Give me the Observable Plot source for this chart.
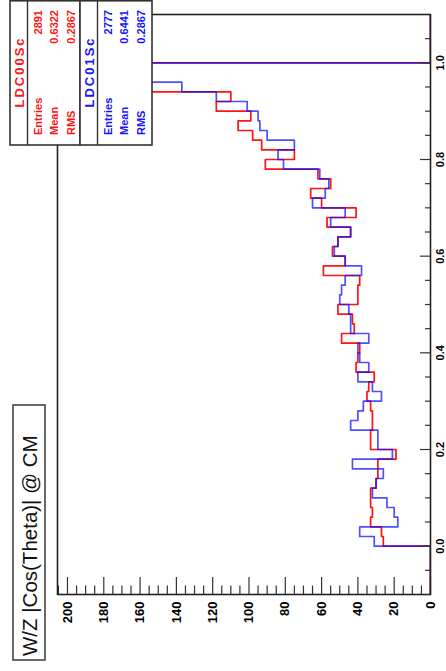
<!DOCTYPE html>
<html>
<head>
<meta charset="utf-8">
<script src="https://cdn.jsdelivr.net/npm/d3@7"></script>
<script src="https://cdn.jsdelivr.net/npm/@observablehq/plot@0.6"></script>
<style>
  html, body { margin: 0; padding: 0; background: #fff; overflow: hidden; }
  #chart { position: relative; width: 446px; height: 671px; }
</style>
</head>
<body>
<div id="chart"></div>
<script>
// |cos(theta)| of the W/Z in the centre-of-mass frame, drawn sideways:
// cos(theta) runs up the page, counts run to the left.
const title = "W/Z |Cos(Theta)| @ CM";
const binWidth = 0.02;               // 50 bins on [0, 1]
const histRange = [-0.1, 1.1];       // histogram axis range
const countMax = 205.5;              // top of the count axis

const seriesNames = ["LDC00Sc", "LDC01Sc"];
const seriesColors = ["#ff1414", "#1414ff"];
const statEntries = ["2891", "2777"];
const statMean = ["0.6322", "0.6441"];
const statRms = ["0.2867", "0.2867"];

// bin contents, bin i covers [0.02*i, 0.02*(i+1))
const ldc00 = [26, 27, 33, 32, 33, 33, 30, 29, 29, 19,
               33, 33, 32, 32, 33, 35, 34, 31, 41, 40,
               39, 49, 42, 43, 51, 40, 40, 39, 59, 47,
               54, 51, 44, 57, 41, 60, 66, 55, 62, 91,
               75, 93, 98, 106, 99, 118, 110, 160, 172, 196];
const ldc01 = [31, 39, 18, 20, 24, 32, 30, 26, 43, 21,
               29, 29, 44, 40, 37, 27, 32, 40, 34, 39,
               40, 34, 44, 44, 45, 50, 49, 47, 38, 47,
               53, 51, 44, 55, 47, 65, 58, 56, 61, 81,
               84, 75, 90, 94, 95, 101, 118, 137, 165, 190];

const cosTicks = [0, 0.2, 0.4, 0.6, 0.8, 1.0];
const countTicks = [0, 20, 40, 60, 80, 100, 120, 140, 160, 180, 200];

// secondary ticks: every 0.05 in cos(theta), every 5 in counts
const cosMinor = d3.range(-0.05, 1.0501, 0.05).filter(t => Math.abs(t / 0.2 - Math.round(t / 0.2)) > 1e-6);
const countMinor = d3.range(5, 206, 5).filter(t => t % 20 !== 0);

const W = 446, H = 671;
const margin = {left: 57, right: 16, top: 14, bottom: 77};
const innerW = W - margin.left - margin.right;
const innerH = H - margin.top - margin.bottom;

// outline of a histogram as step vertices (count, bin low edge)
function stepPoints(values) {
  const pts = [{c: 0, e: histRange[0]}];
  values.forEach((v, i) => pts.push({c: v, e: i * binWidth}));
  pts.push({c: 0, e: values.length * binWidth});
  pts.push({c: 0, e: histRange[1]});
  return pts;
}

const font = "'Liberation Sans', Arial, Helvetica, sans-serif";
const tickColor = "#333";

const plot = Plot.plot({
  width: W,
  height: H,
  marginLeft: margin.left,
  marginRight: margin.right,
  marginTop: margin.top,
  marginBottom: margin.bottom,
  style: {fontFamily: font, background: "#fff", color: "#000"},
  x: {domain: [0, countMax], reverse: true, axis: null},
  y: {domain: histRange, axis: null},
  marks: [
    Plot.line(stepPoints(ldc00), {x: "c", y: "e", curve: "step-before", stroke: seriesColors[0], strokeWidth: 1.7, clip: true}),
    Plot.line(stepPoints(ldc01), {x: "c", y: "e", curve: "step-before", stroke: seriesColors[1], strokeWidth: 1.7, strokeOpacity: 0.75, clip: true}),
    // cos(theta) axis on the right, ticks pointing into the frame
    Plot.tickY(cosTicks, {y: d => d, insetLeft: innerW - 10, stroke: tickColor, strokeWidth: 1.2}),
    Plot.tickY(cosMinor, {y: d => d, insetLeft: innerW - 5, stroke: tickColor, strokeWidth: 1.2}),
    // count axis at the bottom, ticks pointing into the frame
    Plot.tickX(countTicks, {x: d => d, insetTop: innerH - 17, stroke: tickColor, strokeWidth: 1.2}),
    Plot.tickX(countMinor, {x: d => d, insetTop: innerH - 8.5, stroke: tickColor, strokeWidth: 1.2}),
    Plot.frame({stroke: "#222", strokeWidth: 1.6}),
    Plot.text(cosTicks, {x: 0, y: d => d, dx: 9.5, rotate: -90, text: d => d.toFixed(1),
      fontSize: 11, fontWeight: "bold", fill: "#000"}),
    Plot.text(countTicks, {x: d => d, y: histRange[0], dy: 7, rotate: -90, textAnchor: "end",
      text: d => String(d), fontSize: 13, fontWeight: "bold", fill: "#000"})
  ]
});

document.getElementById("chart").appendChild(plot);

// Title box and statistics boxes, drawn on top of the plot area
const svg = d3.select(plot);

const tbox = svg.append("g");
tbox.append("rect").attr("x", 13).attr("y", 405).attr("width", 32).attr("height", 255)
  .attr("fill", "#fff").attr("stroke", "#444").attr("stroke-width", 1.6);
tbox.append("text")
  .attr("transform", "translate(29.5,656) rotate(-90)")
  .attr("text-anchor", "start").attr("dominant-baseline", "central")
  .attr("font-family", font).attr("font-size", 20.5).attr("fill", "#111")
  .text(title);

const boxes = [{x: 10, w: 70}, {x: 80, w: 72}];
const statTop = 0.8, statBottom = 145;
boxes.forEach((b, s) => {
  const g = svg.append("g").attr("font-family", font).attr("font-weight", "bold").attr("fill", seriesColors[s]);
  g.append("rect").attr("x", b.x).attr("y", statTop).attr("width", b.w).attr("height", statBottom - statTop)
    .attr("fill", "#fff").attr("stroke", "#333").attr("stroke-width", 1.6);
  g.append("line").attr("x1", b.x + 17.5).attr("x2", b.x + 17.5).attr("y1", statTop).attr("y2", statBottom)
    .attr("stroke", "#333").attr("stroke-width", 1.4);
  g.append("text")
    .attr("transform", `translate(${b.x + 9},72) rotate(-90)`)
    .attr("text-anchor", "middle").attr("dominant-baseline", "central")
    .attr("font-size", 13).attr("letter-spacing", 2)
    .text(seriesNames[s]);
  const rows = [["Entries", statEntries[s]], ["Mean", statMean[s]], ["RMS", statRms[s]]];
  const offs = [27.5, 43.5, 61];
  rows.forEach(([label, value], r) => {
    const cx = b.x + offs[r];
    g.append("text")
      .attr("transform", `translate(${cx},135) rotate(-90)`)
      .attr("text-anchor", "start").attr("dominant-baseline", "central")
      .attr("font-size", 11).text(label);
    g.append("text")
      .attr("transform", `translate(${cx},10) rotate(-90)`)
      .attr("text-anchor", "end").attr("dominant-baseline", "central")
      .attr("font-size", 11).text(value);
  });
});
</script>
</body>
</html>
